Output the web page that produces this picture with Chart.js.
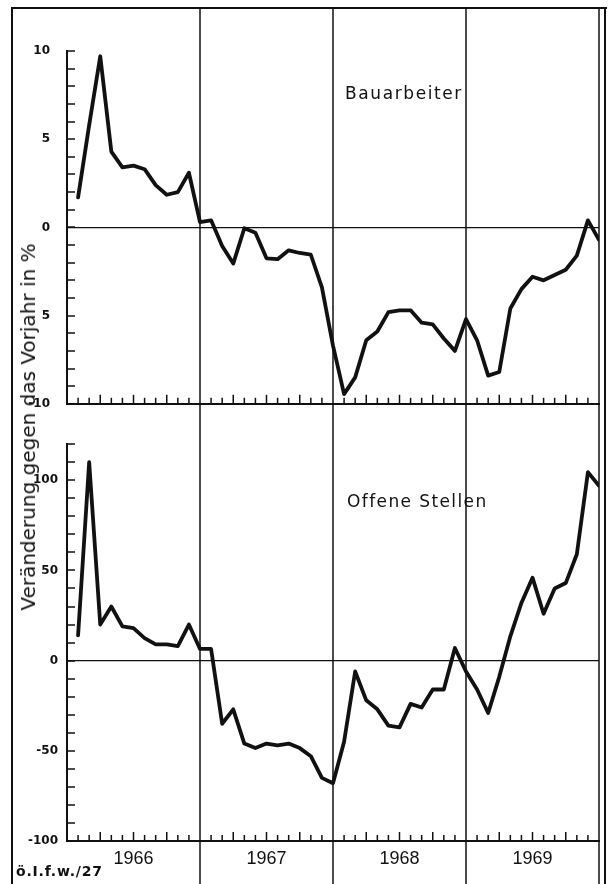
<!DOCTYPE html>
<html>
<head>
<meta charset="utf-8">
<script src="https://cdn.jsdelivr.net/npm/chart.js@4"></script>
<style>
  html, body { margin: 0; padding: 0; background: #fff; }
  #page { position: relative; width: 608px; height: 884px; overflow: hidden; background: #fff; font-family: 'DejaVu Sans', sans-serif; color: #111; }
  canvas { position: absolute; left: 0; }
  #top { top: 0; }
  #bottom { top: 428px; }
  .rule { position: absolute; background: #111; }
  .lbl { position: absolute; white-space: nowrap; }
  #ytitle { left: 28px; top: 427px; font-size: 20px; transform: translate(-50%, -50%) rotate(-90deg); }
</style>
</head>
<body>
<div id="page">
  <canvas id="top" width="608" height="428"></canvas>
  <canvas id="bottom" width="608" height="456"></canvas>
  <div class="rule" style="left:11px; top:7px; width:2px; height:877px;"></div>
  <div class="rule" style="left:11px; top:7px; width:596px; height:2px;"></div>
  <div class="rule" style="left:604px; top:7px; width:2px; height:877px;"></div>
  <div class="lbl" id="ytitle">Veränderung gegen das Vorjahr in %</div>
  <div class="lbl" style="left:345px; top:83px; font-size:17px; letter-spacing:1.6px;">Bauarbeiter</div>
  <div class="lbl" style="left:347px; top:491px; font-size:17px; letter-spacing:1.4px;">Offene Stellen</div>
  <div class="lbl" style="left:16px; top:863px; font-size:14px; font-weight:bold; letter-spacing:0.8px;">ö.I.f.w./27</div>
</div>
<script>
// monthly change against previous year, Jan 1966 - Dec 1969
const bauarbeiter = [
  1.7, 5.8, 9.7, 4.3, 3.4, 3.5, 3.3, 2.4, 1.85, 2.0, 3.1, 0.3,
  0.4, -1.05, -2.05, -0.05, -0.3, -1.75, -1.8, -1.3, -1.45, -1.55, -3.4, -6.7,
  -9.45, -8.5, -6.4, -5.9, -4.8, -4.7, -4.7, -5.4, -5.5, -6.3, -7.0, -5.2,
  -6.4, -8.4, -8.2, -4.6, -3.5, -2.8, -3.0, -2.7, -2.4, -1.6, 0.4, -0.7
];
const offeneStellen = [
  14, 110, 20, 30, 19, 18, 12.5, 9, 9, 8, 20, 6.5,
  6.5, -35, -27, -46, -48.5, -46, -47, -46, -48.5, -53, -65, -68,
  -45, -6, -22, -27, -36, -37, -24, -26, -16, -16, 7, -6,
  -16, -29, -9, 13.5, 32, 46, 26, 40, 43, 59, 104.5, 97
];
const years = ["1966", "1967", "1968", "1969"];
const yearCenters = [6, 18, 30, 42];
const yearBounds = [12, 24, 36, 48];
const topTicks = [-10, -5, 0, 5, 10];
const topTickLabels = ["-10", "5", "0", "5", "10"];
const bottomTicks = [-100, -50, 0, 50, 100];
const bottomTickLabels = ["-100", "-50", "0", "50", "100"];

Chart.defaults.font.family = "'DejaVu Sans', sans-serif";
Chart.defaults.color = "#111";

// year lines, inward month ticks and inward value ticks
const frameMarks = {
  id: "frameMarks",
  beforeDatasetsDraw(chart, args, opts) {
    const { ctx, chartArea: a, scales: { x, y } } = chart;
    const line = (x1, y1, x2, y2) => { ctx.beginPath(); ctx.moveTo(x1, y1); ctx.lineTo(x2, y2); ctx.stroke(); };
    ctx.save();
    ctx.strokeStyle = "#111";
    ctx.lineWidth = 1.5;
    yearBounds.forEach(v => {
      const px = Math.round(x.getPixelForValue(v));
      line(px, opts.lineTop, px, chart.height);
    });
    for (let m = 1; m < 48; m++) {
      if (m % 12 === 0) continue;
      const px = x.getPixelForValue(m);
      line(px, a.bottom, px, a.bottom - (m % 3 === 0 ? 9 : 6));
    }
    for (let v = y.min; v <= y.max; v += opts.minorStep) {
      const py = Math.round(y.getPixelForValue(v));
      line(a.left, py, a.left + 8, py);
    }
    ctx.restore();
  }
};

function lineSet(values) {
  return {
    data: values.map((v, i) => ({ x: i + 1, y: v })),
    borderColor: "#111",
    borderWidth: 3.8,
    pointRadius: 0,
    tension: 0,
    borderJoinStyle: "round",
    borderCapStyle: "round"
  };
}

function zeroGrid(c) {
  return c.tick && c.tick.value === 0 ? "#111" : "rgba(0,0,0,0)";
}

new Chart(document.getElementById("top"), {
  type: "line",
  data: { datasets: [lineSet(bauarbeiter)] },
  plugins: [frameMarks],
  options: {
    responsive: false,
    animation: false,
    events: [],
    layout: { padding: { left: 12, right: 9, top: 51, bottom: 12 } },
    plugins: {
      legend: { display: false },
      tooltip: { enabled: false },
      frameMarks: { lineTop: 8, minorStep: 1 }
    },
    scales: {
      x: {
        type: "linear", min: 0, max: 48,
        grid: { display: false, drawTicks: false },
        ticks: { display: false },
        border: { display: true, color: "#111", width: 2 },
        afterFit: s => { s.height = 0; }
      },
      y: {
        min: -10, max: 10,
        afterBuildTicks: s => { s.ticks = topTicks.map(v => ({ value: v })); },
        ticks: { callback: (v, i) => topTickLabels[i], padding: 17, font: { size: 12, weight: "bold" } },
        grid: { drawTicks: false, color: zeroGrid, lineWidth: 1.3 },
        border: { color: "#111", width: 2 },
        afterFit: s => { s.width = 55; }
      }
    }
  }
});

new Chart(document.getElementById("bottom"), {
  type: "line",
  data: { datasets: [lineSet(offeneStellen)] },
  plugins: [frameMarks],
  options: {
    responsive: false,
    animation: false,
    events: [],
    layout: { padding: { left: 12, right: 9, top: 10, bottom: 0 } },
    plugins: {
      legend: { display: false },
      tooltip: { enabled: false },
      frameMarks: { lineTop: 0, minorStep: 10 }
    },
    scales: {
      x: {
        type: "linear", min: 0, max: 48,
        afterBuildTicks: s => { s.ticks = yearCenters.map(v => ({ value: v })); },
        ticks: { callback: (v, i) => years[i], padding: 7, autoSkip: false, maxRotation: 0, font: { size: 18, family: "'Liberation Sans', sans-serif" } },
        grid: { display: false, drawTicks: false },
        border: { display: true, color: "#111", width: 2 },
        afterFit: s => { s.height = 43; }
      },
      y: {
        min: -100, max: 120,
        afterBuildTicks: s => { s.ticks = bottomTicks.map(v => ({ value: v })); },
        ticks: { callback: (v, i) => bottomTickLabels[i], padding: 9, font: { size: 12, weight: "bold" } },
        grid: { drawTicks: false, color: zeroGrid, lineWidth: 1.3 },
        border: { color: "#111", width: 2 },
        afterFit: s => { s.width = 55; }
      }
    }
  }
});
</script>
</body>
</html>
